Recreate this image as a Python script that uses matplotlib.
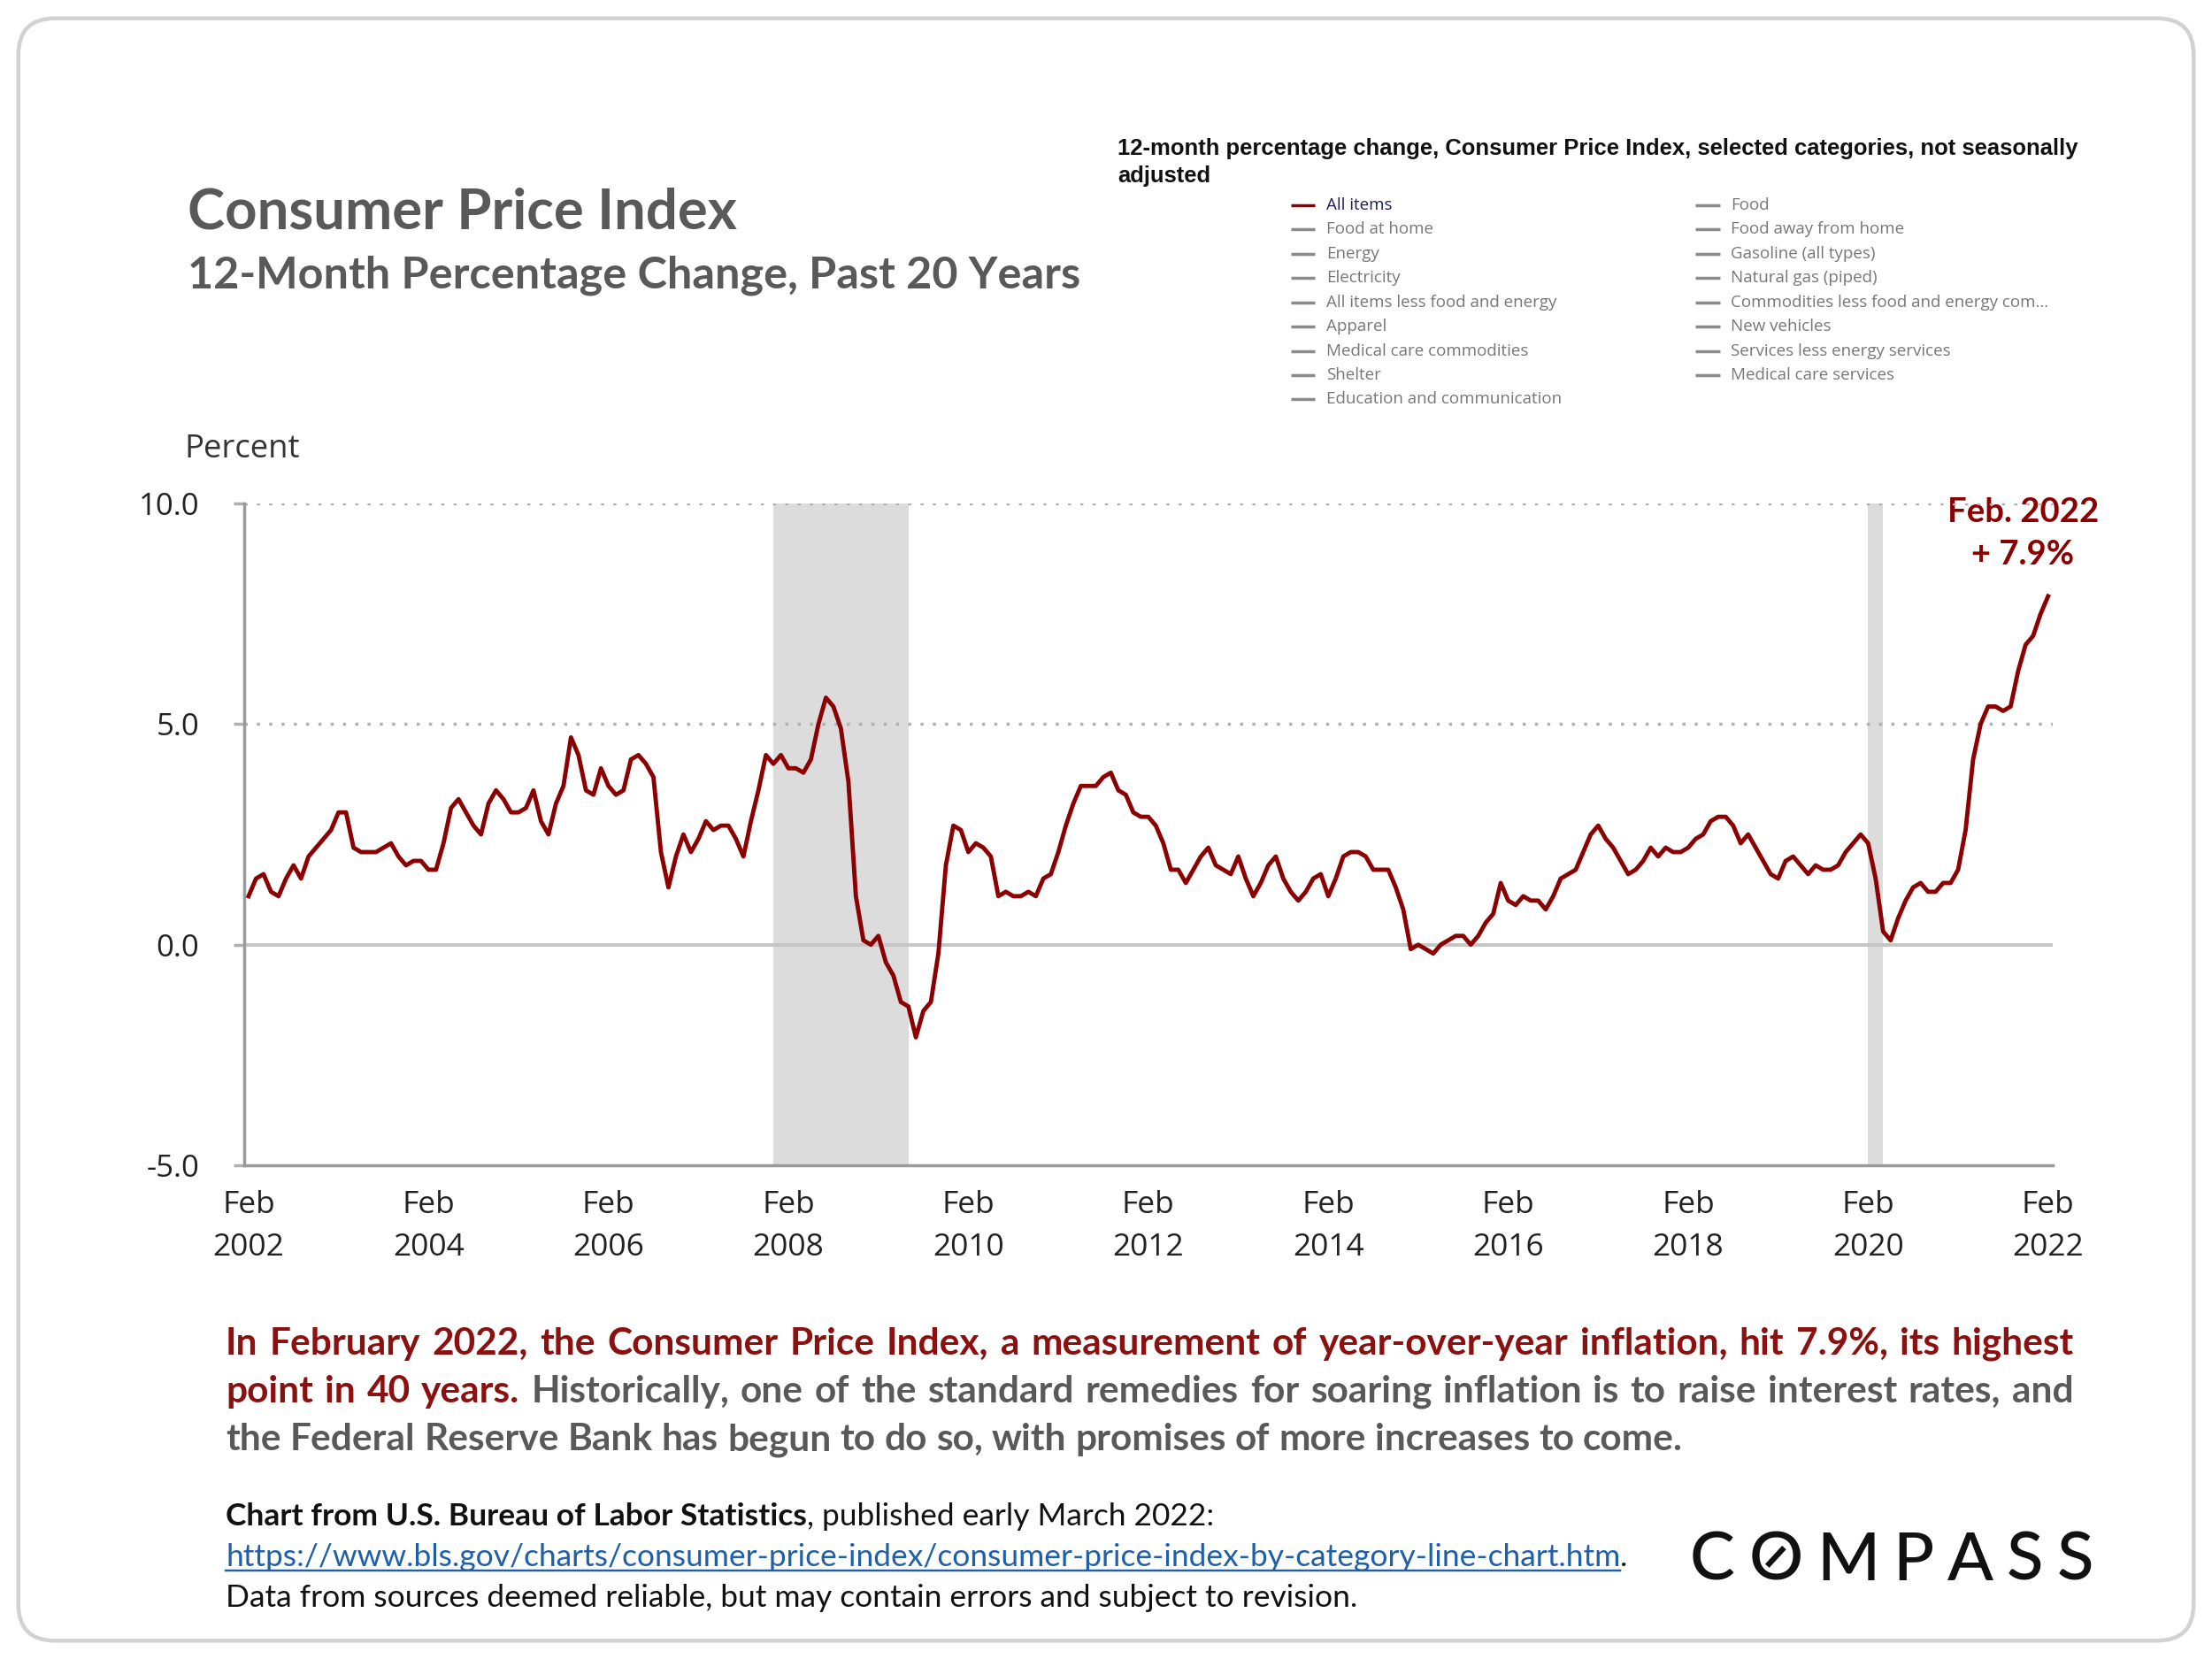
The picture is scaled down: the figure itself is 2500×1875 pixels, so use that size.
import matplotlib
matplotlib.use('Agg')
import matplotlib.pyplot as plt
import numpy as np
import pandas as pd
from matplotlib.patches import FancyBboxPatch

# ---- data ----
months = pd.period_range('2002-02', '2022-02', freq='M')
cpi_change = [
    1.1, 1.5, 1.6, 1.2, 1.1, 1.5, 1.8, 1.5, 2.0, 2.2, 2.4,
    2.6, 3.0, 3.0, 2.2, 2.1, 2.1, 2.1, 2.2, 2.3, 2.0, 1.8, 1.9,
    1.9, 1.7, 1.7, 2.3, 3.1, 3.3, 3.0, 2.7, 2.5, 3.2, 3.5, 3.3,
    3.0, 3.0, 3.1, 3.5, 2.8, 2.5, 3.2, 3.6, 4.7, 4.3, 3.5, 3.4,
    4.0, 3.6, 3.4, 3.5, 4.2, 4.3, 4.1, 3.8, 2.1, 1.3, 2.0, 2.5,
    2.1, 2.4, 2.8, 2.6, 2.7, 2.7, 2.4, 2.0, 2.8, 3.5, 4.3, 4.1,
    4.3, 4.0, 4.0, 3.9, 4.2, 5.0, 5.6, 5.4, 4.9, 3.7, 1.1, 0.1,
    0.0, 0.2, -0.4, -0.7, -1.3, -1.4, -2.1, -1.5, -1.3, -0.2, 1.8, 2.7,
    2.6, 2.1, 2.3, 2.2, 2.0, 1.1, 1.2, 1.1, 1.1, 1.2, 1.1, 1.5,
    1.6, 2.1, 2.7, 3.2, 3.6, 3.6, 3.6, 3.8, 3.9, 3.5, 3.4, 3.0,
    2.9, 2.9, 2.7, 2.3, 1.7, 1.7, 1.4, 1.7, 2.0, 2.2, 1.8, 1.7,
    1.6, 2.0, 1.5, 1.1, 1.4, 1.8, 2.0, 1.5, 1.2, 1.0, 1.2, 1.5,
    1.6, 1.1, 1.5, 2.0, 2.1, 2.1, 2.0, 1.7, 1.7, 1.7, 1.3, 0.8,
    -0.1, 0.0, -0.1, -0.2, 0.0, 0.1, 0.2, 0.2, 0.0, 0.2, 0.5, 0.7,
    1.4, 1.0, 0.9, 1.1, 1.0, 1.0, 0.8, 1.1, 1.5, 1.6, 1.7, 2.1,
    2.5, 2.7, 2.4, 2.2, 1.9, 1.6, 1.7, 1.9, 2.2, 2.0, 2.2, 2.1,
    2.1, 2.2, 2.4, 2.5, 2.8, 2.9, 2.9, 2.7, 2.3, 2.5, 2.2, 1.9,
    1.6, 1.5, 1.9, 2.0, 1.8, 1.6, 1.8, 1.7, 1.7, 1.8, 2.1, 2.3,
    2.5, 2.3, 1.5, 0.3, 0.1, 0.6, 1.0, 1.3, 1.4, 1.2, 1.2, 1.4,
    1.4, 1.7, 2.6, 4.2, 5.0, 5.4, 5.4, 5.3, 5.4, 6.2, 6.8, 7.0,
    7.5, 7.9,
]
recessions = [('2007-12', '2009-06'), ('2020-02', '2020-04')]
tick_months = ['2002-02', '2004-02', '2006-02', '2008-02', '2010-02', '2012-02',
               '2014-02', '2016-02', '2018-02', '2020-02', '2022-02']
y_ticks = [-5.0, 0.0, 5.0, 10.0]

legend_col1 = ['All items', 'Food at home', 'Energy', 'Electricity',
               'All items less food and energy', 'Apparel', 'Medical care commodities',
               'Shelter', 'Education and communication']
legend_col2 = ['Food', 'Food away from home', 'Gasoline (all types)', 'Natural gas (piped)',
               'Commodities less food and energy com...', 'New vehicles',
               'Services less energy services', 'Medical care services']

RED = '#8b0000'
TEXT_RED = '#8b1010'
GREY = '#595959'

W, H = 1568, 1176  # layout units (reference pixels)
fig = plt.figure(figsize=(10, 7.5), dpi=250)
fig.patch.set_facecolor('white')

bg = fig.add_axes([0, 0, 1, 1])
bg.set_xlim(0, W)
bg.set_ylim(H, 0)
bg.axis('off')
bg.set_zorder(0)

card = FancyBboxPatch((13, 13), 1542, 1150, boxstyle='round,pad=0,rounding_size=26',
                      fc='white', ec='#d2d2d2', lw=1.3)
bg.add_patch(card)

renderer = fig.canvas.get_renderer()
scale = fig.dpi * fig.get_figwidth() / W


def width_of(t):
    return t.get_window_extent(renderer).width / scale


# ---- chart ----
ax = fig.add_axes([173 / W, 1 - 826 / H, (1455 - 173) / W, (826 - 357) / H])
ax.set_zorder(2)
ax.patch.set_alpha(0)

x = np.arange(len(months))
for start, end in recessions:
    ax.axvspan(months.get_loc(start), months.get_loc(end), color='#dcdcdc', lw=0, zorder=0)
for v in y_ticks[2:]:
    ax.axhline(v, color='#b0b0b0', lw=1.0, ls=(0, (1, 3)), zorder=1)
ax.axhline(0, color='#c4c4c4', lw=1.1, zorder=1)
ax.plot(x, cpi_change, color=RED, lw=1.4, zorder=3)

ax.set_xlim(-0.6, len(months) - 0.4)
ax.set_ylim(-5, 10)
ax.set_yticks(y_ticks)
ax.set_yticklabels([f'{v:.1f}' for v in y_ticks])
tick_pos = [months.get_loc(m) for m in tick_months]
ax.set_xticks(tick_pos)
ax.set_xticklabels(['Feb\n' + m[:4] for m in tick_months], linespacing=1.55)
for s in ['top', 'right']:
    ax.spines[s].set_visible(False)
for s in ['left', 'bottom']:
    ax.spines[s].set_color('#9a9a9a')
    ax.spines[s].set_linewidth(1.0)
ax.tick_params(axis='y', length=3.5, width=1.0, color='#b0b0b0', pad=11,
               labelsize=10, labelcolor='#222222')
ax.tick_params(axis='x', length=0, pad=8, labelsize=10.2, labelcolor='#222222')
for lab in ax.get_xticklabels() + ax.get_yticklabels():
    lab.set_family('Open Sans')

# annotation for latest value
bg.text(1434, 370, 'Feb. 2022', ha='center', va='baseline', fontsize=11,
        fontweight='bold', color=RED, family='Lato')
bg.text(1434, 400, '+ 7.9%', ha='center', va='baseline', fontsize=11,
        fontweight='bold', color=RED, family='Lato')

bg.text(131, 324, 'Percent', va='baseline', fontsize=10.5, color='#333333', family='Open Sans')

# ---- titles ----
bg.text(133, 162, 'Consumer Price Index', va='baseline', fontsize=18.3,
        fontweight='bold', color=GREY, family='Lato')
bg.text(133, 204, '12-Month Percentage Change, Past 20 Years', va='baseline', fontsize=14.5,
        fontweight='bold', color=GREY, family='Lato')

# ---- legend block ----
bg.text(792, 110, '12-month percentage change, Consumer Price Index, selected categories, not seasonally',
        va='baseline', fontsize=7.4, fontweight='bold', color='#111111', family='Liberation Sans')
bg.text(792, 129, 'adjusted', va='baseline', fontsize=7.4, fontweight='bold',
        color='#111111', family='Liberation Sans')

row_gap = 17.2
for col_x, names in [(915, legend_col1), (1202, legend_col2)]:
    for i, name in enumerate(names):
        yy = 145.5 + i * row_gap
        first = name == 'All items'
        bg.plot([col_x, col_x + 17], [yy, yy], color=RED if first else '#8a8a8a', lw=1.0,
                solid_capstyle='butt')
        bg.text(col_x + 25, yy, name, va='center', fontsize=5.4,
                color='#1c1c5a' if first else '#777777', family='Open Sans')

# ---- paragraph ----
PARA_SIZE = 12.2


def place_line(y, tokens, x0, x1, justify=True):
    objs = [bg.text(x0, y, w, va='baseline', fontsize=PARA_SIZE, fontweight='bold',
                    color=c, family='Lato') for w, c in tokens]
    widths = [width_of(t) for t in objs]
    if justify:
        gap = (x1 - x0 - sum(widths)) / (len(objs) - 1)
    else:
        gap = 6.3
    xx = x0
    for t, w in zip(objs, widths):
        t.set_x(xx)
        xx += w + gap


line1 = 'In February 2022, the Consumer Price Index, a measurement of year-over-year inflation, hit 7.9%, its highest'
line2_red = 'point in 40 years.'
line2_grey = 'Historically, one of the standard remedies for soaring inflation is to raise interest rates, and'
line3 = 'the Federal Reserve Bank has begun to do so, with promises of more increases to come.'

place_line(960, [(w, TEXT_RED) for w in line1.split()], 160, 1470)
place_line(994, [(w, TEXT_RED) for w in line2_red.split()] +
           [(w, GREY) for w in line2_grey.split()], 160, 1470)
place_line(1028, [(w, GREY) for w in line3.split()], 160, 1470, justify=False)

# ---- source ----
SRC_SIZE = 10.2
t1 = bg.text(160, 1081, 'Chart from U.S. Bureau of Labor Statistics', va='baseline',
             fontsize=SRC_SIZE, fontweight='bold', color='#111111', family='Lato')
bg.text(160 + width_of(t1), 1081, ', published early March 2022:', va='baseline',
        fontsize=SRC_SIZE, color='#111111', family='Lato')
url = 'https://www.bls.gov/charts/consumer-price-index/consumer-price-index-by-category-line-chart.htm'
t2 = bg.text(160, 1110, url, va='baseline', fontsize=SRC_SIZE, color='#1f5fa8', family='Lato')
w2 = width_of(t2)
bg.plot([160, 160 + w2], [1113, 1113], color='#1f5fa8', lw=0.7)
bg.text(160 + w2, 1110, '.', va='baseline', fontsize=SRC_SIZE, color='#111111', family='Lato')
bg.text(160, 1139, 'Data from sources deemed reliable, but may contain errors and subject to revision.',
        va='baseline', fontsize=SRC_SIZE, color='#111111', family='Lato')

# ---- logo ----
letters = ['C', 'O', 'M', 'P', 'A', 'S', 'S']
objs = [bg.text(0, 1120, ch, va='baseline', fontsize=22, fontweight='medium',
                color='#111111', family='Lato')
        for ch in letters]
lw_list = [width_of(t) for t in objs]
track = (1484 - 1198 - sum(lw_list)) / (len(letters) - 1)
xx = 1198
for t, w, ch in zip(objs, lw_list, letters):
    t.set_x(xx)
    if ch == 'O':
        cx = xx + w / 2
        bg.plot([cx - 6, cx + 6], [1110, 1097], color='#111111', lw=1.8,
                solid_capstyle='butt')
    xx += w + track

fig.savefig('out.png', dpi=250)
